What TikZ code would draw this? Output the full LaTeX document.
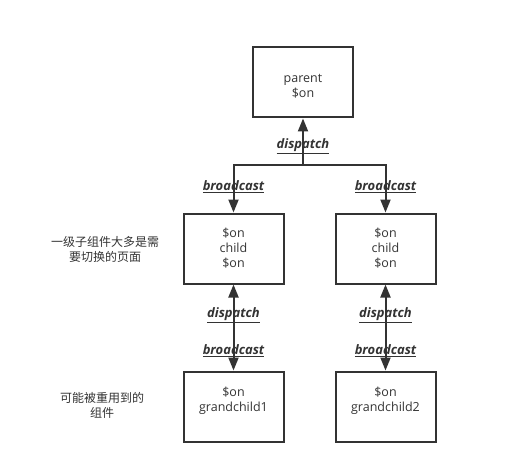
\documentclass[tikz,border=0pt]{standalone}
\usepackage{fontspec}
\setmainfont{Open Sans}
\newfontfamily\cjk{Noto Sans CJK SC}
\usetikzlibrary{arrows.meta, positioning, calc}
\definecolor{linegray}{RGB}{51,51,51}

\begin{document}
\begin{tikzpicture}[
    x=1pt, y=1pt,
    box/.style={draw=linegray, line width=2pt, minimum width=100pt, minimum height=70pt,
                align=center, font=\fontsize{12.5}{15}\selectfont, text=linegray},
    arr/.style={-{Triangle[length=13pt,width=10pt]}, draw=linegray, line width=2pt},
    twoway/.style={arr, {Triangle[length=13pt,width=10pt]}-{Triangle[length=13pt,width=10pt]}},
    lbl/.style={font=\fontsize{13}{15}\selectfont\bfseries\itshape, text=linegray},
    note/.style={align=center, font=\cjk\fontsize{12}{15}\selectfont, text=linegray},
]
\useasboundingbox (0,0) rectangle (505,472);
\node[box] (parent) at (303,389.5) {~\\parent\\\$on};
\node[box, below=94pt of parent, xshift=-69.5pt] (childA) {\$on\\child\\\$on};
\node[box, below=94pt of parent, xshift=82.5pt] (childB) {\$on\\child\\\$on};
\node[box, below=86pt of childA] (grandA) {\$on\\grandchild1\\~};
\node[box, below=86pt of childB] (grandB) {\$on\\grandchild2\\~};
\coordinate (split) at (303,307);

\node[note] (noteA) at (105,222.5) {一级子组件大多是需\\要切换的页面};
\node[note] (noteB) at (102,67) {可能被重用到的\\组件};

\draw[arr] (split) -- (parent);
\draw[arr] (split) -| (childA);
\draw[arr] (split) -| (childB);
\draw[twoway] (childA) -- (grandA);
\draw[twoway] (childB) -- (grandB);

\node[lbl] (dispTop) at (303,326) {\underline{dispatch}};
\node[lbl] (castA) at ($(childA.north)+(0,26)$) {\underline{broadcast}};
\node[lbl] (castB) at ($(childB.north)+(0,26)$) {\underline{broadcast}};
\node[lbl] (dispA) at ($(childA.south)+(0,-31)$) {\underline{dispatch}};
\node[lbl] (dispB) at ($(childB.south)+(0,-31)$) {\underline{dispatch}};
\node[lbl] (castGA) at ($(grandA.north)+(0,20)$) {\underline{broadcast}};
\node[lbl] (castGB) at ($(grandB.north)+(0,20)$) {\underline{broadcast}};
\end{tikzpicture}
\end{document}
